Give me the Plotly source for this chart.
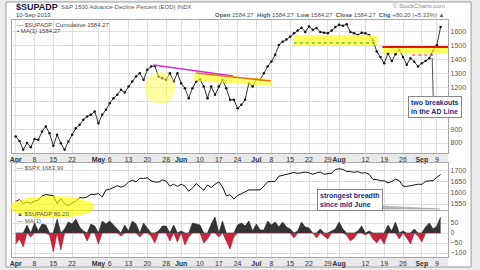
import pandas as pd
import plotly.graph_objects as go

# ---------------- data ----------------
holidays = ["2013-05-27", "2013-07-04", "2013-09-02"]
dates = [d for d in pd.bdate_range("2013-04-01", "2013-09-10") if d.strftime("%Y-%m-%d") not in holidays]

ad_line = [847, 815, 752, 800, 770, 828, 823, 883, 919, 871,
           780, 859, 799, 751, 811, 859, 907, 931, 967, 991,
           1003, 1027, 943, 1003, 1039, 1087, 1123, 1147, 1183, 1164,
           1207, 1243, 1279, 1303, 1255, 1327, 1351, 1355, 1279, 1267,
           1255, 1303, 1243, 1303, 1231, 1195, 1123, 1195, 1243, 1259,
           1207, 1123, 1207, 1147, 1207, 1255, 1195, 1111, 1111, 1051,
           1075, 1111, 1231, 1207, 1259, 1255, 1303, 1351, 1387, 1435,
           1506, 1530, 1545, 1566, 1590, 1610, 1630, 1600, 1640, 1615,
           1628, 1600, 1595, 1590, 1610, 1635, 1652, 1645, 1655, 1600,
           1590, 1578, 1595, 1590, 1578, 1540, 1460, 1420, 1375, 1446,
           1390, 1440, 1470, 1420, 1363, 1411, 1385, 1351, 1375, 1390,
           1411, 1465, 1505, 1635]

spx = [1562, 1570, 1553, 1559, 1553, 1563, 1568, 1587, 1593, 1589,
       1588, 1552, 1574, 1552, 1542, 1555, 1563, 1579, 1578, 1582,
       1594, 1593, 1598, 1582, 1614, 1617, 1626, 1633, 1626, 1633,
       1650, 1658, 1650, 1667, 1666, 1669, 1655, 1650, 1649, 1660,
       1654, 1631, 1640, 1630, 1640, 1631, 1608, 1622, 1643, 1626,
       1612, 1636, 1626, 1639, 1651, 1628, 1588, 1592, 1573, 1588,
       1597, 1606, 1614, 1614, 1615, 1614, 1631, 1651, 1652, 1653,
       1676, 1680, 1682, 1689, 1693, 1689, 1692, 1695, 1691, 1685,
       1691, 1695, 1685, 1686, 1690, 1706, 1710, 1707, 1698, 1697,
       1694, 1697, 1690, 1692, 1685, 1662, 1661, 1656, 1655, 1646,
       1652, 1663, 1656, 1631, 1630, 1633, 1638, 1640, 1639, 1653,
       1655, 1656, 1671, 1684]

ad_pct = [-55, -30, -70, 40, -20, 50, 10, 45, 40, -10,
          -95, 70, -85, 20, 55, 45, 70, 30, 10, -40,
          45, 35, -55, 60, 45, 60, 40, 20, -15, 40,
          10, 60, 45, -20, 50, 25, -15, -50, 10, 35,
          35, -40, 40, -45, 10, -60, -20, 50, 45, 40,
          -50, -30, 45, 80, -20, 60, -40, -80, -20, 40,
          50, 35, 60, 10, 45, 15, 15, 60, 40, 55,
          30, 55, 30, 20, -25, 10, 55, 30, 25, 0,
          -25, 20, -15, -30, 10, 20, 55, 20, -10, -40,
          -25, 10, 35, -10, 10, -30, -50, -25, -55, 40,
          10, 55, -30, 10, -25, -55, 20, -15, -45, 30,
          50, 20, 35, 80]

tick_dates = ["2013-04-01", "2013-04-08", "2013-04-15", "2013-04-22",
              "2013-05-01", "2013-05-06", "2013-05-13", "2013-05-20", "2013-05-28",
              "2013-06-03", "2013-06-10", "2013-06-17", "2013-06-24",
              "2013-07-01", "2013-07-08", "2013-07-15", "2013-07-22", "2013-07-29",
              "2013-08-01", "2013-08-12", "2013-08-19", "2013-08-26",
              "2013-09-03", "2013-09-09"]
tick_labels = ["<b>Apr</b>", "8", "15", "22", "<b>May</b>", "6", "13", "20", "28",
               "<b>Jun</b>", "10", "17", "24", "<b>Jul</b>", "8", "15", "22", "29",
               "<b>Aug</b>", "12", "19", "26", "<b>Sep</b>", "9"]

main_ticks = [800, 900, 1000, 1100, 1200, 1300, 1400, 1500, 1600]
main_labels = ["800", "900", "", "", "1200", "1300", "1400", "1500", "1600"]  # 1000/1100 hidden by callout
spx_ticks = [1550, 1600, 1650, 1700]
pct_ticks = [-100, -50, 0, 50]

# ---------------- build ----------------
idx = list(range(len(dates)))
date_str = [d.strftime("%Y-%m-%d") for d in dates]
tickvals = [date_str.index(t) for t in tick_dates]

W, H = 480, 270
def X(px): return px / W
def Y(py): return 1 - py / H

FONT = "Liberation Sans, Arial, sans-serif"
GRID = "#dedede"

fig = go.Figure()
fig.add_trace(go.Scatter(x=idx, y=ad_line, mode="lines+markers", xaxis="x", yaxis="y",
                         line=dict(color="#333", width=1), marker=dict(size=2.5, color="#111"),
                         showlegend=False, hoverinfo="skip"))
fig.add_trace(go.Scatter(x=idx, y=spx, mode="lines", xaxis="x2", yaxis="y2",
                         line=dict(color="#111", width=1), showlegend=False, hoverinfo="skip"))
pos = [max(v, 0) for v in ad_pct]
neg = [min(v, 0) for v in ad_pct]
fig.add_trace(go.Scatter(x=idx, y=pos, mode="lines", fill="tozeroy", xaxis="x3", yaxis="y3",
                         line=dict(color="#222", width=0.6), fillcolor="#333",
                         showlegend=False, hoverinfo="skip"))
fig.add_trace(go.Scatter(x=idx, y=neg, mode="lines", fill="tozeroy", xaxis="x3", yaxis="y3",
                         line=dict(color="#b01830", width=0.6), fillcolor="#c8243e",
                         showlegend=False, hoverinfo="skip"))

xdom = [X(10), X(448)]
common_x = dict(domain=xdom, range=[-1, 115], tickvals=tickvals, ticktext=tick_labels,
                tickangle=0, showgrid=True, gridcolor=GRID, gridwidth=1, zeroline=False,
                showline=True, mirror=True, linecolor="#a8a8a8", ticks="",
                tickfont=dict(family=FONT, size=7, color="#333"))
common_y = dict(side="right", showgrid=True, gridcolor=GRID, zeroline=False,
                showline=True, mirror=True, linecolor="#a8a8a8", ticks="",
                tickfont=dict(family=FONT, size=7, color="#555"))

fig.update_layout(
    width=W, height=H, margin=dict(l=0, r=0, t=0, b=0),
    paper_bgcolor="#ececec", plot_bgcolor="white",
    xaxis=dict(**common_x, anchor="y"),
    yaxis=dict(**common_y, domain=[Y(153), Y(20)], range=[728, 1686], tickvals=main_ticks,
               ticktext=main_labels, anchor="x"),
    xaxis2=dict(**common_x, anchor="y2", showticklabels=False),
    yaxis2=dict(**common_y, domain=[Y(210), Y(163)], range=[1523, 1736], tickvals=spx_ticks, anchor="x2"),
    xaxis3=dict(**common_x, anchor="y3"),
    yaxis3=dict(**common_y, domain=[Y(257), Y(211)], range=[-120, 110], tickvals=pct_ticks, anchor="x3"),
)

shapes = []
shapes.append(dict(type="rect", xref="paper", yref="paper", x0=X(4), x1=X(471), y0=Y(267), y1=Y(2),
                   fillcolor="white", line=dict(color="#9a9a9a", width=1), layer="below"))
for a, b in [(153, 163), (257, 266)]:
    shapes.append(dict(type="rect", xref="paper", yref="paper", x0=X(10), x1=X(448), y0=Y(b), y1=Y(a),
                       fillcolor="#e9e9e9", line=dict(width=0), layer="below"))
shapes.append(dict(type="circle", xref="paper", yref="paper", x0=X(143), x1=X(174), y0=Y(104), y1=Y(72),
                   fillcolor="rgba(255,255,90,0.55)", line=dict(width=0)))
shapes.append(dict(type="path", xref="paper", yref="paper",
                   path=f"M {X(193)} {Y(74)} L {X(270)} {Y(79)} L {X(270)} {Y(86)} L {X(193)} {Y(81)} Z",
                   fillcolor="rgba(255,255,40,0.7)", line=dict(width=0)))
shapes.append(dict(type="line", xref="paper", yref="paper", x0=X(152), y0=Y(65), x1=X(232), y1=Y(76),
                   line=dict(color="#d030c8", width=1.5)))
shapes.append(dict(type="line", xref="paper", yref="paper", x0=X(195), y0=Y(73), x1=X(270), y1=Y(81),
                   line=dict(color="#e8701a", width=1.5)))
shapes.append(dict(type="rect", xref="paper", yref="paper", x0=X(293), x1=X(377), y0=Y(45), y1=Y(35),
                   fillcolor="rgba(255,255,40,0.75)", line=dict(width=0)))
shapes.append(dict(type="line", xref="paper", yref="paper", x0=X(293), y0=Y(43), x1=X(377), y1=Y(43),
                   line=dict(color="#2a9a2a", width=1.2, dash="dot")))
shapes.append(dict(type="rect", xref="paper", yref="paper", x0=X(382), x1=X(448), y0=Y(53), y1=Y(47),
                   fillcolor="rgba(255,255,40,0.75)", line=dict(width=0)))
shapes.append(dict(type="line", xref="paper", yref="paper", x0=X(382), y0=Y(47), x1=X(448), y1=Y(47),
                   line=dict(color="#e01818", width=2)))
shapes.append(dict(type="line", xref="paper", yref="paper", x0=X(412), y0=Y(55), x1=X(433), y1=Y(55),
                   line=dict(color="#d02020", width=1.2, dash="dot")))
shapes.append(dict(type="line", xref="paper", yref="paper", x0=X(433), y0=Y(97), x1=X(432), y1=Y(58),
                   line=dict(color="#555", width=1)))
shapes.append(dict(type="path", xref="paper", yref="paper",
                   path=f"M {X(382)} {Y(206)} L {X(440)} {Y(209)} L {X(382)} {Y(209)} Z",
                   fillcolor="#bbb", line=dict(color="#999", width=0.5)))
shapes.append(dict(type="circle", xref="paper", yref="paper", x0=X(8), x1=X(93), y0=Y(218), y1=Y(196),
                   fillcolor="rgba(255,255,0,0.65)", line=dict(width=0)))
fig.update_layout(shapes=shapes)

def txt(x, y, s, size=6, color="#333", anchor="left", **kw):
    return dict(x=X(x), y=Y(y), xref="paper", yref="paper", text=s, showarrow=False,
                xanchor=anchor, yanchor="middle", font=dict(family=FONT, size=size, color=color), **kw)

ann = [
    txt(12, 7, "<b>$SUPADP</b>", size=9, color="#1b1b3a"),
    txt(57, 7, "S&P 1500 Advance-Decline Percent (EOD) INDX", size=6, color="#555"),
    txt(12, 15, "10-Sep-2013", size=6, color="#444"),
    txt(447, 6, "© StockCharts.com", size=6, color="#888", anchor="right"),
    txt(447, 15, "<b>Open</b> 1584.27  <b>High</b> 1584.27  <b>Low</b> 1584.27  <b>Close</b> 1584.27  <b>Chg</b> +80.20 (+5.33%) ▲",
        size=6, color="#555", anchor="right"),
    txt(13, 25, "— $SUPADP  Cumulative 1584.27", size=6, color="#444"),
    txt(13, 31, "• MA(1) 1584.27", size=6, color="#444"),
    txt(13, 168, "— $SPX 1683.99", size=6, color="#555"),
    txt(13, 214, "▲ $SUPADP 80.20", size=6, color="#555"),
    txt(13, 221, "— MA(1)", size=6, color="#555"),
    dict(x=X(434.5), y=Y(107), xref="paper", yref="paper", showarrow=False,
         text="<b>two breakouts<br>in the AD Line</b>", align="left",
         font=dict(family=FONT, size=7, color="#1c2a80"),
         bgcolor="white", bordercolor="#888", borderwidth=1, borderpad=2,
         xanchor="center", yanchor="middle"),
    dict(x=X(349), y=Y(199.5), xref="paper", yref="paper", showarrow=False,
         text="<b>strongest breadth<br>since mid June</b>", align="left",
         font=dict(family=FONT, size=7, color="#1c2a80"),
         bgcolor="white", bordercolor="#888", borderwidth=1, borderpad=2,
         xanchor="center", yanchor="middle"),
]
fig.update_layout(annotations=ann)

fig.write_html("out.html")
